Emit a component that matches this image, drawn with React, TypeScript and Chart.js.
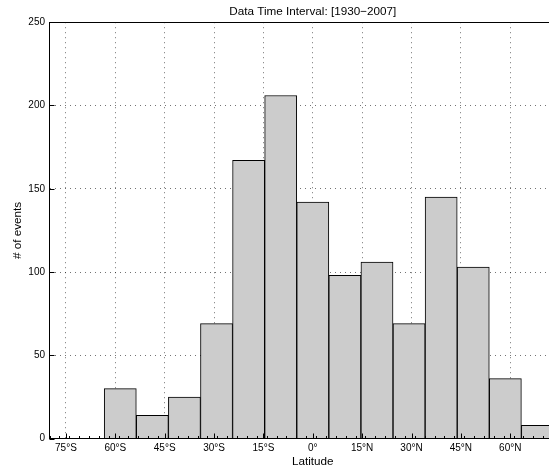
import React, { useEffect, useRef } from "react";
import { Chart, registerables } from "chart.js";

Chart.register(...registerables);

const binCenters = [-58.5, -48.75, -39, -29.25, -19.5, -9.75, 0, 9.75, 19.5, 29.25, 39, 48.75, 58.5, 68.25];
const eventCounts = [30, 14, 25, 69, 167, 206, 142, 98, 106, 69, 145, 103, 36, 8];
const latTicks = [-75, -60, -45, -30, -15, 0, 15, 30, 45, 60, 75];
const latLabels = ["75°S", "60°S", "45°S", "30°S", "15°S", "0°", "15°N", "30°N", "45°N", "60°N", "75°N"];
const countTicks = [0, 50, 100, 150, 200, 250];
const minorStep = 3;

const FONT = "'Liberation Sans', Arial, Helvetica, sans-serif";

const frameTicks = {
  id: "frameTicks",
  afterDraw(chart: any) {
    const { ctx, chartArea, scales } = chart;
    const { left, right, top, bottom } = chartArea;
    const x = scales.x;
    const y = scales.y;
    ctx.save();
    ctx.strokeStyle = "#000";
    ctx.lineWidth = 1;
    ctx.beginPath();
    const ty = Math.round(top) + 0.5;
    ctx.moveTo(left, ty);
    ctx.lineTo(right, ty);
    const rx = Math.round(right) - 0.5;
    ctx.moveTo(rx, top);
    ctx.lineTo(rx, bottom);
    // major ticks on bottom (inside)
    const by = Math.round(bottom) - 0.5;
    latTicks.forEach((v) => {
      const px = Math.round(x.getPixelForValue(v)) + 0.5;
      ctx.moveTo(px, by);
      ctx.lineTo(px, by - 5);
    });
    // minor ticks bottom
    for (let v = x.min; v <= x.max; v += minorStep) {
      if (latTicks.includes(v)) continue;
      const px = Math.round(x.getPixelForValue(v)) + 0.5;
      ctx.moveTo(px, by);
      ctx.lineTo(px, by - 2.5);
    }
    // major ticks left (inside)
    const lx = Math.round(left) - 0.5;
    countTicks.forEach((v) => {
      const py = Math.round(y.getPixelForValue(v)) + 0.5;
      ctx.moveTo(lx, py);
      ctx.lineTo(lx + 5, py);
    });
    ctx.stroke();
    ctx.restore();
  },
};

export default function App() {
  const ref = useRef<HTMLCanvasElement | null>(null);

  useEffect(() => {
    if (!ref.current) return;
    const chart = new Chart(ref.current, {
      type: "bar",
      data: {
        datasets: [
          {
            data: binCenters.map((c, i) => ({ x: c, y: eventCounts[i] })),
            backgroundColor: "#cccccc",
            borderColor: "#000000",
            borderWidth: 1,
            barPercentage: 1,
            categoryPercentage: 1,
          },
        ],
      },
      options: {
        animation: false,
        responsive: false,
        devicePixelRatio: 1,
        layout: { padding: { left: 0, right: 23.9, top: 0, bottom: 0 } },
        plugins: {
          legend: { display: false },
          tooltip: { enabled: false },
          title: {
            display: true,
            text: "Data Time Interval: [1930\u22122007]",
            fullSize: false,
            color: "#000",
            font: { family: FONT, size: 11.7, weight: "normal" },
            padding: { top: 4.5, bottom: 3.66 },
          },
        },
        scales: {
          x: {
            type: "linear",
            min: -80,
            max: 80,
            offset: false,
            afterBuildTicks: (axis: any) => {
              axis.ticks = latTicks.map((value) => ({ value }));
            },
            afterFit: (axis: any) => {
              axis.height = 34.4;
            },
            ticks: {
              autoSkip: false,
              maxRotation: 0,
              padding: 3.4,
              color: "#000",
              font: { family: FONT, size: 10 },
              callback: (v: any) => {
                const i = latTicks.indexOf(Number(v));
                return i >= 0 ? latLabels[i] : "";
              },
            },
            grid: {
              offset: false,
              drawTicks: false,
              color: "rgba(0,0,0,0.55)",
              lineWidth: 1,
            },
            border: { display: true, color: "#000", width: 1, dash: [1, 4], z: 1 },
            title: {
              display: true,
              text: "Latitude",
              color: "#000",
              font: { family: FONT, size: 11.7 },
              padding: { top: 0, bottom: 4.3 },
            },
          },
          y: {
            min: 0,
            max: 250,
            afterBuildTicks: (axis: any) => {
              axis.ticks = countTicks.map((value) => ({ value }));
            },
            afterFit: (axis: any) => {
              axis.width = 49.5;
            },
            ticks: {
              padding: 4.5,
              color: "#000",
              font: { family: FONT, size: 10 },
            },
            grid: {
              drawTicks: false,
              color: "rgba(0,0,0,0.55)",
              lineWidth: 1,
            },
            border: { display: true, color: "#000", width: 1, dash: [1, 4], z: 1 },
            title: {
              display: true,
              text: "# of events",
              color: "#000",
              font: { family: FONT, size: 11.7 },
              padding: { top: 10.5, bottom: 0 },
            },
          },
        },
      },
      plugins: [frameTicks],
    } as any);
    return () => chart.destroy();
  }, []);

  return (
    <div
      style={{
        position: "fixed",
        left: 0,
        top: 0,
        width: 549,
        height: 473,
        overflow: "hidden",
        background: "#fff",
      }}
    >
      <canvas ref={ref} width={600} height={473} style={{ display: "block", width: 600, height: 473 }} />
    </div>
  );
}
